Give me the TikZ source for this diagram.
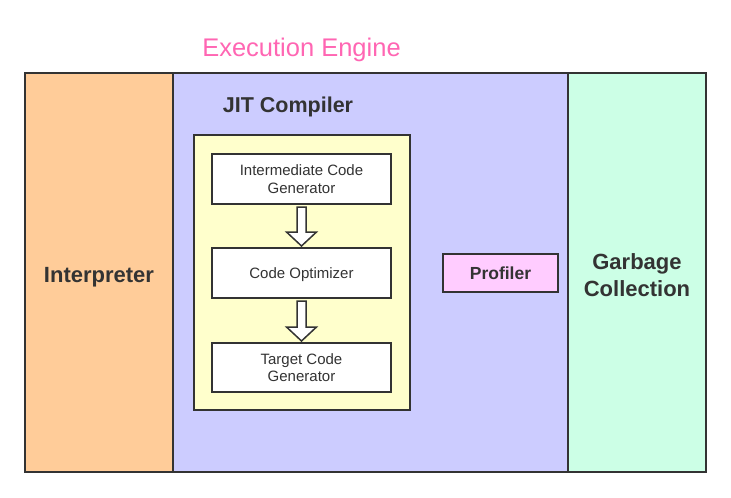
\documentclass[tikz,border=0pt]{standalone}
\usepackage{fontspec}
\setmainfont{Liberation Sans}
\usetikzlibrary{positioning,calc}

\definecolor{inkgray}{HTML}{333333}
\definecolor{interp}{HTML}{FFCC99}
\definecolor{jitbg}{HTML}{CCCCFF}
\definecolor{gcbg}{HTML}{CCFFE6}
\definecolor{yellowbg}{HTML}{FFFFCC}
\definecolor{profbg}{HTML}{FFCCFF}
\definecolor{titlepink}{HTML}{FF66B3}

\newcommand{\hollowarrow}[2]{%
    \draw[flow] let \p1=(#1.south), \p2=(#2.north) in
        (\x1-4.5pt,\y1-3pt) -- (\x1+4.5pt,\y1-3pt) -- (\x1+4.5pt,\y2+16pt) -- (\x1+15pt,\y2+16pt)
        -- (\x1,\y2+2pt) -- (\x1-15pt,\y2+16pt) -- (\x1-4.5pt,\y2+16pt) -- cycle;}

\begin{document}
\begin{tikzpicture}[x=1pt,y=-1pt,
        every node/.style={text=inkgray,inner sep=0pt,outer sep=0pt},
        part/.style={draw=inkgray,line width=2pt,rectangle,minimum height=399pt},
        bigtext/.style={font=\fontsize{22}{26.7}\selectfont\bfseries,align=center},
        stage/.style={draw=inkgray,line width=1.5pt,fill=white,rectangle,minimum width=179pt,minimum height=50pt,font=\fontsize{15}{17.3}\selectfont,align=center},
        flow/.style={draw=inkgray,line width=1.5pt,fill=white,line join=miter}]

    \useasboundingbox (0,0) rectangle (731,498);

    \node[font=\fontsize{25.5}{30}\selectfont,text=titlepink,text depth=0pt] (title) at (301.5,47) {Execution Engine};

    \node[part,fill=jitbg,minimum width=395pt]  (jit)    at (370.5,272.5) {};
    \node[part,fill=interp,minimum width=148pt] (interp) at (99,272.5)    {};
    \node[part,fill=gcbg,minimum width=138pt]   (gc)     at (637,272.5)   {};
    \node[bigtext,text depth=0pt] (interpname) at ([yshift=-2.5pt]interp.center) {Interpreter};
    \node[bigtext] (gcname) at ([yshift=-2.5pt]gc.center) {Garbage\\Collection};

    \node[font=\fontsize{21.5}{25}\selectfont\bfseries,text depth=0pt] (jitlabel) at (288,105) {JIT Compiler};
    \node[draw=inkgray,line width=2pt,fill=yellowbg,minimum width=216pt,minimum height=275pt] (compiler) at (302,272.5) {};

    \node[stage] (inter) at (301.5,179) {Intermediate Code\\Generator};
    \node[stage,text depth=0pt,below=44pt of inter] (optim) {Code Optimizer};
    \node[stage,below=45pt of optim,minimum height=49pt] (target) {Target Code\\Generator};

    \hollowarrow{inter}{optim}
    \hollowarrow{optim}{target}

    \node[draw=inkgray,line width=2pt,fill=profbg,minimum width=115pt,minimum height=38pt,font=\fontsize{17.5}{20}\selectfont\bfseries] (profiler) at (500.5,273) {\raisebox{-1.5pt}{Profiler}};
\end{tikzpicture}
\end{document}
